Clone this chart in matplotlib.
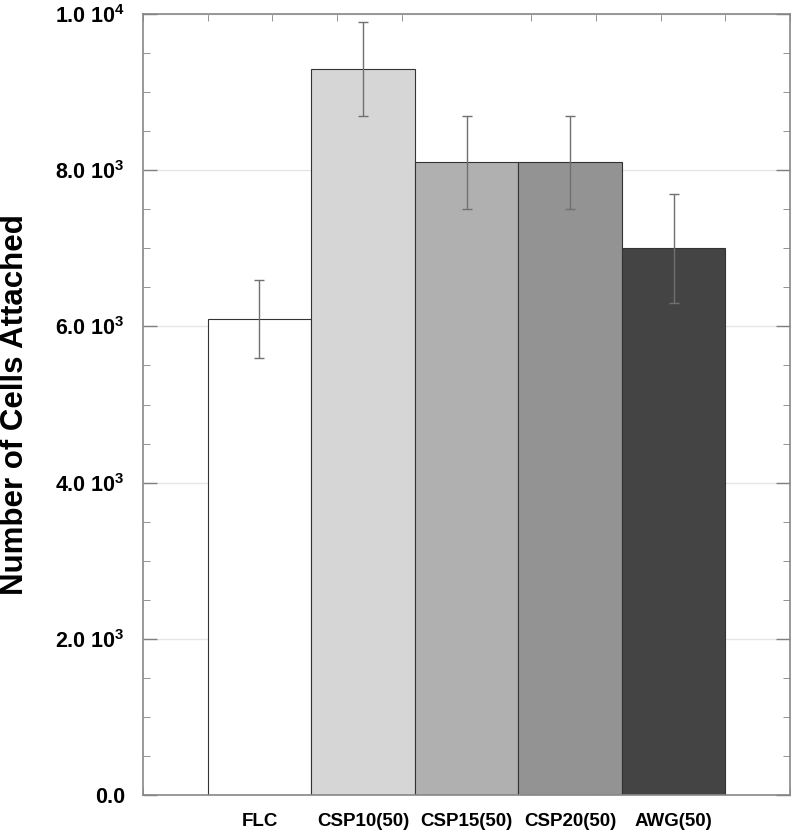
import matplotlib
matplotlib.use("Agg")
import matplotlib.pyplot as plt
import numpy as np

categories = ["FLC", "CSP10(50)", "CSP15(50)", "CSP20(50)", "AWG(50)"]
values = [6100, 9300, 8100, 8100, 7000]
errors = [500, 600, 600, 600, 700]
colors = ["#ffffff", "#d6d6d6", "#b0b0b0", "#939393", "#444444"]
ytick_vals = [0, 2000, 4000, 6000, 8000, 10000]
ytick_labels = ["0.0", r"2.0 10$^{\mathbf{3}}$", r"4.0 10$^{\mathbf{3}}$",
                r"6.0 10$^{\mathbf{3}}$", r"8.0 10$^{\mathbf{3}}$", r"1.0 10$^{\mathbf{4}}$"]

plt.rcParams['font.family'] = ['Liberation Sans', 'DejaVu Sans']
plt.rcParams['mathtext.fontset'] = 'custom'
plt.rcParams['mathtext.rm'] = 'Liberation Sans:bold'
plt.rcParams['mathtext.bf'] = 'Liberation Sans:bold'
plt.rcParams['mathtext.it'] = 'Liberation Sans:bold'

fig = plt.figure(figsize=(7.92, 8.34), dpi=100)
ax = fig.add_axes([143/792, 1-795/834, (790-143)/792, (795-14)/834])

width = 1.6
x = 1.8 + width * np.arange(len(categories))
ax.bar(x, values, width=width, color=colors, edgecolor="#333333", linewidth=0.8, zorder=2)
ax.errorbar(x, values, yerr=errors, fmt="none", ecolor="#707070", elinewidth=1.0,
            capsize=3.5, capthick=1.0, zorder=3)

ax.set_xlim(0, 10)
ax.set_ylim(0, 10000)

ax.set_yticks(ytick_vals)
ax.set_yticklabels(ytick_labels, fontsize=15.5, fontweight="bold")
ax.set_yticks(np.arange(0, 10001, 500), minor=True)
ax.set_xticks(x)
ax.set_xticklabels(categories, fontsize=13.5, fontweight="bold")
ax.set_xticks(np.arange(0, 11, 1), minor=True)

ax.tick_params(axis="x", which="major", length=0, pad=13)
ax.tick_params(axis="x", which="minor", length=5, direction="in", top=True, bottom=True, color="#808080")
ax.tick_params(axis="y", which="major", length=10, direction="in", left=True, right=True, color="#808080", width=1.0, pad=13)
ax.tick_params(axis="y", which="minor", length=5, direction="in", left=True, right=True, color="#808080")

ax.grid(axis="y", which="major", color="#e6e6e6", linewidth=1.0, zorder=0)
ax.set_axisbelow(True)
for s in ax.spines.values():
    s.set_color("#888888")
    s.set_linewidth(1.2)

ax.set_ylabel("Number of Cells Attached", fontsize=22.5, fontweight="bold")
ax.yaxis.set_label_coords((30 - 143) / 647, 0.5)

fig.savefig("out.png", dpi=100)
